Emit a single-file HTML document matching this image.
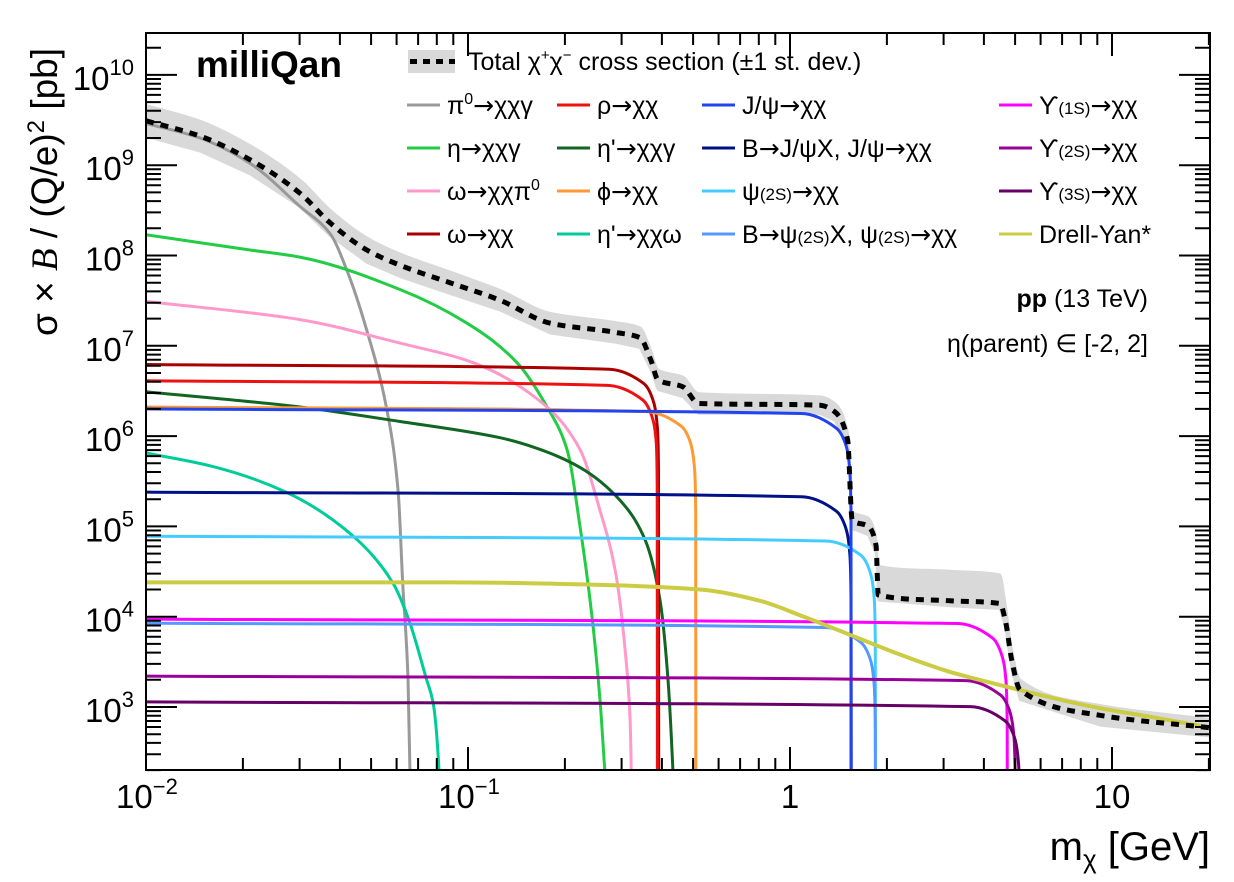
<!DOCTYPE html>
<html><head><meta charset="utf-8"><style>
html,body{margin:0;padding:0;background:#fff;width:1234px;height:882px;overflow:hidden}
svg{display:block;font-family:"Liberation Sans",sans-serif}
.ar{font-family:"DejaVu Sans",sans-serif}
</style></head><body>
<svg id="chart" width="1234" height="882" viewBox="0 0 1234 882" xmlns="http://www.w3.org/2000/svg">
<defs><clipPath id="plotclip"><rect x="146" y="33" width="1064" height="737"/></clipPath></defs>
<g id="band" clip-path="url(#plotclip)"></g>
<g id="series" clip-path="url(#plotclip)"></g>
<g id="total" clip-path="url(#plotclip)"></g>
<rect x="146" y="33" width="1064" height="737" fill="none" stroke="#000" stroke-width="2"/>
<g id="ticks"></g>
<g id="labels" font-size="33"></g>

<text x="196" y="77" font-size="37" font-weight="bold">milliQan</text>
<text x="1148" y="307" font-size="25" text-anchor="end"><tspan font-weight="bold">pp</tspan> (13 TeV)</text>
<text x="1148" y="352" font-size="25" text-anchor="end">η(parent) ∈ [-2, 2]</text>

<text transform="translate(57,192) rotate(-90)" text-anchor="middle" font-size="37">σ × <tspan font-family="Liberation Serif" font-style="italic">B</tspan> / (Q/e)<tspan baseline-shift="super" font-size="24">2</tspan> [pb]</text>
<text x="1210" y="860" text-anchor="end" font-size="40">m<tspan dy="8" font-size="26">χ</tspan><tspan dy="-8"> [GeV]</tspan></text>

<g id="legend" font-size="25"></g>
</svg>
<script>
// ---------- data ----------
const totalMass = [0.01,0.01472,0.02104,0.03006,0.0373,0.0485,0.0615,0.0879,0.1257,0.180,0.290,0.342,0.370,0.389,0.466,0.519,1.24,1.38,1.51,1.56,1.75,1.85,1.88,3.14,4.49,4.66,4.89,5.18,9.18,20.1];
const totalSigma = [3.1e9,2.1e9,1.15e9,4.9e8,2.3e8,1.15e8,7.8e7,5.0e7,3.2e7,1.78e7,1.4e7,1.23e7,6.9e6,4.2e6,3.5e6,2.3e6,2.2e6,1.85e6,9.1e5,1.17e5,1.0e5,6.2e4,1.74e4,1.5e4,1.4e4,9.2e3,3.2e3,1.55e3,810,590];
const bandUp = [1.5,1.48,1.45,1.42,1.4,1.38,1.35,1.33,1.3,1.3,1.3,1.3,1.3,1.3,1.3,1.3,1.25,1.25,1.25,1.25,1.25,1.25,2.1,2.15,2.1,1.6,1.35,1.3,1.3,1.25];
const bandDn = [1.5,1.48,1.45,1.42,1.4,1.38,1.35,1.33,1.3,1.3,1.3,1.3,1.3,1.3,1.3,1.3,1.25,1.25,1.25,1.25,1.25,1.25,1.15,1.15,1.15,1.2,1.3,1.3,1.3,1.25];

const pi0Mass = [0.01,0.01472,0.02104,0.03006,0.0373,0.0421,0.0485,0.0560,0.0607,0.0627,0.0651,0.0660,0.0675];
const pi0Sigma = [2.9e9,2.0e9,1.05e9,3.5e8,1.75e8,6.8e7,1.48e7,1.95e6,2.4e5,2.35e4,2.1e3,210,1];
const etaMass = [0.01,0.02104,0.03006,0.0615,0.0993,0.142,0.176,0.203,0.2228,0.2427,0.257,0.266,0.274];
const etaSigma = [1.7e8,1.15e8,9.6e7,4.2e7,1.78e7,6.5e6,2.1e6,7.1e5,1e5,1e4,1.2e3,200,1];
const omegaPi0Mass = [0.01,0.03006,0.0615,0.1038,0.176,0.2228,0.257,0.2864,0.3076,0.3187,0.3235];
const omegaPi0Sigma = [3.1e7,1.95e7,1.07e7,6.5e6,2.1e6,7.1e5,1.5e5,3.3e4,4.3e3,720,1];
const etapGamMass = [0.01,0.03006,0.0615,0.1257,0.159,0.2228,0.2965,0.3548,0.395,0.418,0.433,0.44];
const etapGamSigma = [3.1e6,2.1e6,1.45e6,9.6e5,7.6e5,4.5e5,1.95e5,7.1e4,1.5e4,2e3,200,1];
const etapOmegaMass = [0.01,0.01615,0.0272,0.0440,0.0585,0.0656,0.0741,0.0779,0.0812,0.0822];
const etapOmegaSigma = [6.5e5,4.6e5,2.4e5,7.8e4,2.35e4,9.1e3,2.1e3,1.12e3,210,1];
const rhoMass = [0.01,0.271,0.349,0.372,0.384,0.387,0.3875];
const rhoSigma = [4.1e6,3.64e6,2.51e6,1.68e6,8.6e5,2.75e5,10];
const omegaMass = [0.01,0.274,0.352,0.375,0.387,0.3906,0.391];
const omegaSigma = [6.2e6,5.5e6,3.8e6,2.54e6,1.3e6,4.2e5,10];
const phiMass = [0.01,0.357,0.459,0.49,0.505,0.5095,0.51];
const phiSigma = [2.1e6,1.87e6,1.29e6,8.6e5,4.4e5,1.4e5,10];
const jpsiMass = [0.01,1.084,1.394,1.487,1.534,1.547,1.549];
const jpsiSigma = [2.0e6,1.78e6,1.22e6,8.2e5,4.2e5,1.34e5,10];
const bJpsiSigma = [2.4e5,2.13e5,1.47e5,9.8e4,5.0e4,1.6e4,10];
const psi2sMass = [0.01,1.29,1.659,1.769,1.825,1.841,1.843];
const psi2sSigma = [7.8e4,6.9e4,4.8e4,3.2e4,1.64e4,5.2e3,1];
const bPsi2sSigma = [8.5e3,7.6e3,5.2e3,3.5e3,1.8e3,570,1];
const ups1Mass = [0.01,3.31,4.257,4.541,4.683,4.725,4.73];
const ups1Sigma = [9.4e3,8.4e3,5.8e3,3.8e3,2.0e3,630,1];
const ups2Mass = [0.01,3.508,4.511,4.812,4.962,5.007,5.012];
const ups2Sigma = [2.2e3,1.96e3,1.35e3,900,460,147,1];
const ups3Mass = [0.01,3.625,4.66,4.971,5.126,5.173,5.178];
const ups3Sigma = [1.14e3,1.01e3,700,466,240,76,1];
const dyMass = [0.01,0.0879,0.257,0.525,0.807,1.074,1.535,2.20,3.14,4.49,6.41,9.18,13.1,20.1];
const dySigma = [2.4e4,2.4e4,2.25e4,2.0e4,1.5e4,1.04e4,6.3e3,3.8e3,2.45e3,1.75e3,1.28e3,970,780,590];

const xTickVals = [0.01,0.1,1,10];
const xTickLabels = ["10","10","1","10"];
const xTickExps = ["−2","−1","",""];
const yTickExps = [3,4,5,6,7,8,9,10];

// ---------- axes ----------
const NS='http://www.w3.org/2000/svg';
const X0=146,X1=1210,Y0=33,Y1=770;
const xDec=322, yDec=90.3;
function xs(m){return X0+(Math.log10(m)+2)*xDec;}
function ys(s){return 707-(Math.log10(Math.max(s,50))-3)*yDec;}
function mk(tag,parent){const e=document.createElementNS(NS,tag);parent.appendChild(e);return e;}
function smooth(P,move){
 const n=P.length;if(n<2)return '';
 const h=[],dl=[],t=[];
 for(let i=0;i<n-1;i++){h[i]=Math.max(P[i+1][0]-P[i][0],0.01);dl[i]=(P[i+1][1]-P[i][1])/h[i];}
 t[0]=dl[0];t[n-1]=dl[n-2];
 for(let i=1;i<n-1;i++){const a=dl[i-1],b=dl[i];
  if(a*b<=0)t[i]=0;else t[i]=3*(h[i-1]+h[i])/((2*h[i]+h[i-1])/a+(h[i]+2*h[i-1])/b);}
 let s=(move?'M':'L')+P[0][0].toFixed(1)+','+P[0][1].toFixed(1);
 for(let i=0;i<n-1;i++){const k=h[i]/3;
  let c1=P[i][1]+t[i]*k, c2=P[i+1][1]-t[i+1]*k;
  c1=Math.min(c1,860);c2=Math.min(c2,860);
  s+='C'+(P[i][0]+k).toFixed(1)+','+c1.toFixed(1)+' '+(P[i+1][0]-k).toFixed(1)+','+c2.toFixed(1)+' '+P[i+1][0].toFixed(1)+','+P[i+1][1].toFixed(1);}
 return s;
}
function pathD(ms,ss){return smooth(ms.map((m,i)=>[xs(m),ys(ss[i])]),true);}

// band
const bandG=document.getElementById('band');
const bp=mk('path',bandG);


const upPts=totalMass.map((m,i)=>[xs(m),ys(totalSigma[i]*bandUp[i])]);
const dnPts=totalMass.map((m,i)=>[xs(m),ys(totalSigma[i]/bandDn[i])]);
let d=smooth(upPts,true)+' L'+dnPts[dnPts.length-1][0].toFixed(1)+','+dnPts[dnPts.length-1][1].toFixed(1);
for(let i=dnPts.length-2;i>=0;i--) d+=' L'+dnPts[i][0].toFixed(1)+','+dnPts[i][1].toFixed(1);
bp.setAttribute('d',d+' Z');bp.setAttribute('fill','#d9d9d9');bp.setAttribute('stroke','#d9d9d9');bp.setAttribute('stroke-width','2');bp.setAttribute('stroke-linejoin','round');

// series
const seriesList=[
 ['pi0-chichigamma',pi0Mass,pi0Sigma,'#999999'],
 ['eta-chichigamma',etaMass,etaSigma,'#22cc44'],
 ['omega-chichipi0',omegaPi0Mass,omegaPi0Sigma,'#ff99cc'],
 ['etaprime-chichigamma',etapGamMass,etapGamSigma,'#116622'],
 ['etaprime-chichiomega',etapOmegaMass,etapOmegaSigma,'#00cc99'],
 ['omega-chichi',omegaMass,omegaSigma,'#aa0000'],
 ['rho-chichi',rhoMass,rhoSigma,'#ee1111'],
 ['phi-chichi',phiMass,phiSigma,'#ff9933'],
 ['b-jpsi-chichi',jpsiMass,bJpsiSigma,'#001188'],
 ['psi2s-chichi',psi2sMass,psi2sSigma,'#44ccff'],
 ['b-psi2s-chichi',psi2sMass,bPsi2sSigma,'#5599ff'],
 ['jpsi-chichi',jpsiMass,jpsiSigma,'#2244ee'],
 ['upsilon1s-chichi',ups1Mass,ups1Sigma,'#ff00ff'],
 ['upsilon2s-chichi',ups2Mass,ups2Sigma,'#990099'],
 ['upsilon3s-chichi',ups3Mass,ups3Sigma,'#660066'],
 ['drell-yan',dyMass,dySigma,'#cccc44']
];
const sg=document.getElementById('series');
seriesList.forEach(s=>{
 const p=mk('path',sg);
 
 
 p.setAttribute('d',pathD(s[1],s[2]));
 p.setAttribute('fill','none');p.setAttribute('stroke',s[3]);
 p.setAttribute('stroke-width',s[0]==='drell-yan'?'4':'3');p.setAttribute('stroke-linejoin','round');
});
const tp=mk('path',document.getElementById('total'));


tp.setAttribute('d',pathD(totalMass,totalSigma));
tp.setAttribute('fill','none');tp.setAttribute('stroke','#000');tp.setAttribute('stroke-width','5');tp.setAttribute('stroke-dasharray','8 7');

// ticks
const tg=document.getElementById('ticks');
let td='';
for(let e=-2;e<=1;e++){for(let k=1;k<=9;k++){const m=k*Math.pow(10,e);if(m>20.2)break;const x=xs(m);const L=k===1?23:12;
 td+='M'+x.toFixed(1)+','+Y1+'V'+(Y1-L)+'M'+x.toFixed(1)+','+Y0+'V'+(Y0+L);}}
for(let e=2;e<=10;e++){for(let k=1;k<=9;k++){const v=k*Math.pow(10,e);const y=ys(v);if(y>Y1+0.5||y<Y0)continue;const L=k===1?31:15;
 td+='M'+X0+','+y.toFixed(1)+'H'+(X0+L)+'M'+X1+','+y.toFixed(1)+'H'+(X1-L);}}
const tpath=mk('path',tg);


tpath.setAttribute('d',td);tpath.setAttribute('stroke','#000');tpath.setAttribute('stroke-width','2');

// labels
const lg=document.getElementById('labels');
xTickVals.forEach((v,i)=>{
 const t=mk('text',lg);
 
 
 if(xTickExps[i]){t.setAttribute('x',xs(v)-30);}else{t.setAttribute('x',xs(v));t.setAttribute('text-anchor','middle');}
 t.setAttribute('y',808);
 t.textContent=xTickLabels[i];
 if(xTickExps[i]){const s=mk('tspan',t);s.setAttribute('font-size','22');s.setAttribute('dy','-14');s.textContent=xTickExps[i];}
});
yTickExps.forEach(e=>{
 const t=mk('text',lg);
 
 
 t.setAttribute('x',134);t.setAttribute('text-anchor','end');t.setAttribute('y',ys(Math.pow(10,e))+15);
 t.textContent='10';
 const s=mk('tspan',t);s.setAttribute('font-size','22');s.setAttribute('dy','-15');s.textContent=String(e);
});

// legend
const leg=document.getElementById('legend');
const lb=mk('rect',leg);


lb.setAttribute('x',408);lb.setAttribute('y',50);lb.setAttribute('width',47);lb.setAttribute('height',23);lb.setAttribute('fill','#d9d9d9');
const ld=mk('line',leg);


ld.setAttribute('x1',410);ld.setAttribute('x2',455);ld.setAttribute('y1',61.5);ld.setAttribute('y2',61.5);ld.setAttribute('stroke','#000');ld.setAttribute('stroke-width','5');ld.setAttribute('stroke-dasharray','7 6');
const lt=mk('text',leg);


lt.setAttribute('x',468);lt.setAttribute('y',70);
lt.innerHTML='Total χ<tspan font-size="15" dy="-10">+</tspan><tspan dy="10">χ</tspan><tspan font-size="15" dy="-10">−</tspan><tspan dy="10"> cross section (±1 st. dev.)</tspan>';
const colX=[407,557,702,999];
const rowY=[105,148,191,234];
const A='<tspan class="ar">→</tspan>';
const legItems=[
 [0,0,'#999999','π<tspan font-size="16" dy="-10">0</tspan><tspan class="ar" dy="10">→</tspan>χχγ'],
 [1,0,'#ee1111','ρ'+A+'χχ'],
 [2,0,'#2244ee','J/ψ'+A+'χχ'],
 [3,0,'#ff00ff','ϒ<tspan font-size="17">(1S)</tspan>'+A+'χχ'],
 [0,1,'#22cc44','η'+A+'χχγ'],
 [1,1,'#116622',"η'"+A+'χχγ'],
 [2,1,'#001188','B'+A+'J/ψX, J/ψ'+A+'χχ'],
 [3,1,'#990099','ϒ<tspan font-size="17">(2S)</tspan>'+A+'χχ'],
 [0,2,'#ff99cc','ω'+A+'χχπ<tspan font-size="16" dy="-10">0</tspan>'],
 [1,2,'#ff9933','ϕ'+A+'χχ'],
 [2,2,'#44ccff','ψ<tspan font-size="17">(2S)</tspan>'+A+'χχ'],
 [3,2,'#660066','ϒ<tspan font-size="17">(3S)</tspan>'+A+'χχ'],
 [0,3,'#aa0000','ω'+A+'χχ'],
 [1,3,'#00cc99',"η'"+A+'χχω'],
 [2,3,'#5599ff','B'+A+'ψ<tspan font-size="17">(2S)</tspan>X, ψ<tspan font-size="17">(2S)</tspan>'+A+'χχ'],
 [3,3,'#cccc44','Drell-Yan*']
];
legItems.forEach(it=>{
 const x=colX[it[0]],y=rowY[it[1]];
 const l=mk('line',leg);
 
 
 l.setAttribute('x1',x);l.setAttribute('x2',x+33);l.setAttribute('y1',y);l.setAttribute('y2',y);l.setAttribute('stroke',it[2]);l.setAttribute('stroke-width','3');
 const t=mk('text',leg);
 
 
 t.setAttribute('x',x+40);t.setAttribute('y',y+9);
 t.innerHTML=it[3];
});
</script>
</body></html>
